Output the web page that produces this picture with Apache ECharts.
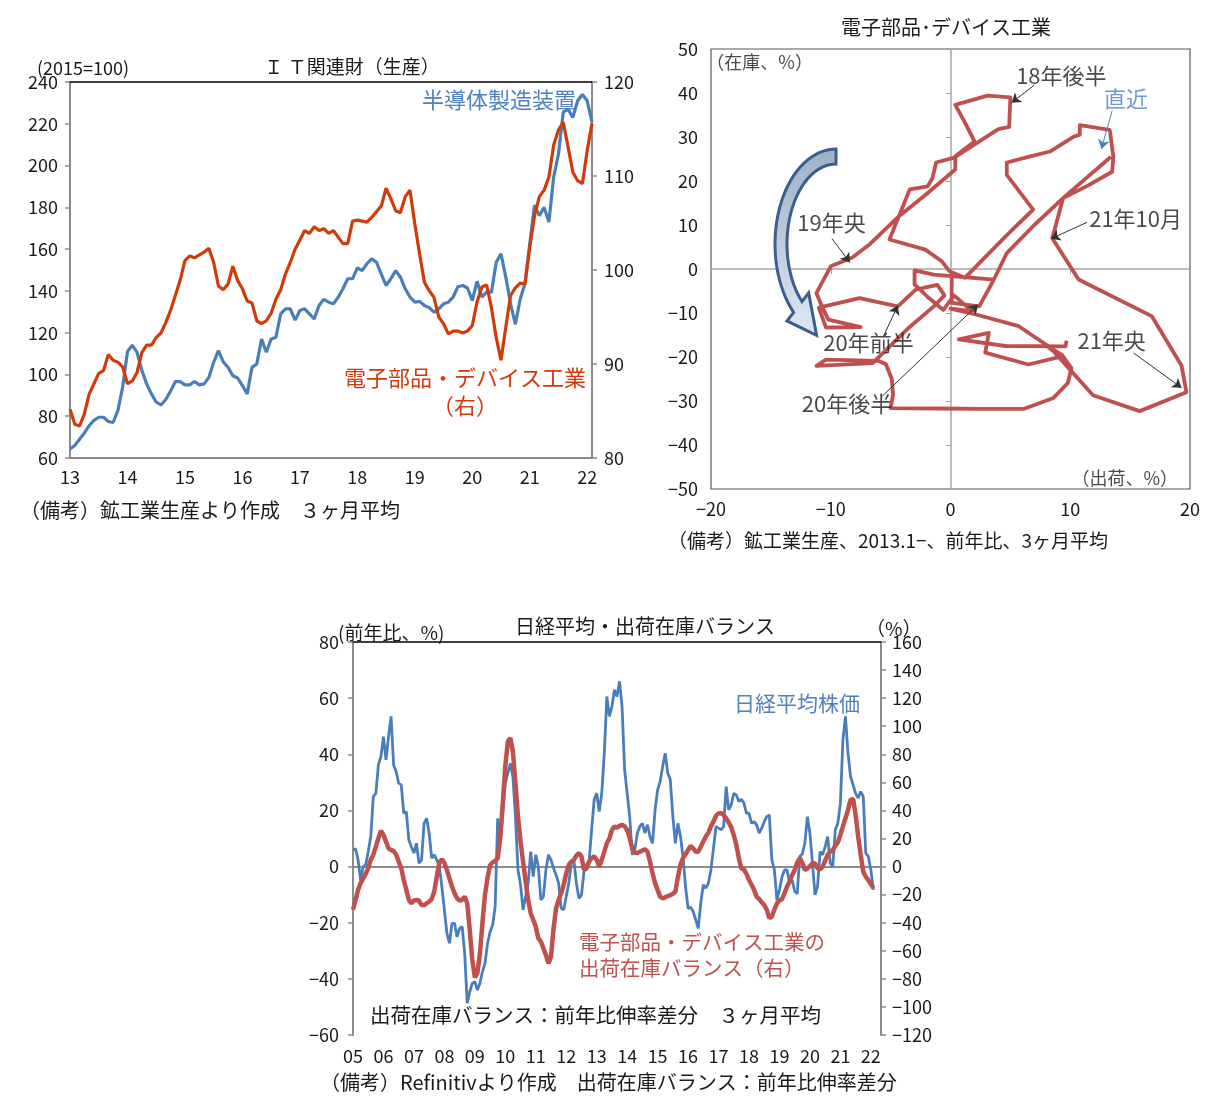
<!DOCTYPE html>
<html>
<head>
<meta charset="utf-8">
<script src="https://cdn.jsdelivr.net/npm/echarts@6.0.0/dist/echarts.min.js"></script>
<style>
  html, body { margin: 0; background: #fff; }
  #chart { width: 1220px; height: 1096px; }
</style>
</head>
<body>
<div id="chart"></div>
<script>
const FONT = "'Noto Sans CJK JP','Noto Sans',sans-serif";
const AXIS_GRAY = '#8c8c8c';
const TEXT = '#1a1a1a';
const BLUE = '#4a7ebb';

// month categories, e.g. '2013-1'
function months(y0, n) {
    const out = [];
    for (let i = 0; i < n; i++) out.push((y0 + Math.floor(i / 12)) + '-' + (i % 12 + 1));
    return out;
}

// ---- IT関連財 (2013.1 - 2022.2)
const itMonths = months(2013, 110);
const semiEquip = [
    64.3, 66, 69, 72, 75.5, 78, 79.5, 79.5, 77.5, 77,
    82.7, 94, 111, 114, 110.6, 102, 95.5, 90.7, 86.7, 85.4,
    88, 92, 96.6, 96.6, 95, 95, 96.6, 95, 95.5, 98.6,
    105.8, 111.4, 106, 103.4, 99.4, 98.3, 94.7, 90.7, 103.4, 105,
    117, 110.6, 117, 117.8, 129, 131.4, 131.4, 126, 130.6, 131.4,
    129, 126.6, 133, 136, 134.6, 133.8, 137, 141, 145.8, 145.8,
    151, 149.7, 153, 155.3, 153.7, 148, 142.6, 145.8, 149.7, 146.6,
    141, 137, 134.6, 135, 133, 132, 129.8, 131.4, 133.8, 134.6,
    137, 142, 142.6, 141.4, 135.4, 144.6, 137, 139.4, 139.4, 153.7,
    157.7, 146.6, 133.8, 124, 136, 143.4, 162.5, 181, 176, 180,
    173, 194.5, 205.6, 225.6, 227, 223, 231, 234, 231, 220.8
];
const elecParts = [
    85.2, 83.6, 83.4, 84.7, 86.8, 87.9, 89, 89.3, 91, 90.4,
    90.2, 89.7, 87.9, 88.2, 89.1, 91.2, 92, 92, 92.8, 93.3,
    94.4, 95.7, 97.3, 98.9, 101, 101.5, 101.3, 101.6, 101.9, 102.3,
    100.8, 98.3, 97.9, 98.5, 100.4, 98.9, 98, 96.7, 96.5, 94.6,
    94.3, 94.6, 95.4, 96.9, 97.9, 99.6, 100.8, 102.2, 103.2, 104.2,
    103.9, 104.6, 104.2, 104.4, 103.9, 104.2, 103.5, 102.8, 102.8, 105.2,
    105.3, 105.2, 105.1, 105.6, 106.2, 106.8, 108.7, 107.6, 106.3, 106.1,
    107.8, 108.5, 104.9, 101.7, 98.7, 97.8, 97.1, 95, 94.3, 93.2,
    93.5, 93.5, 93.3, 93.5, 94.1, 96.6, 98.2, 98.4, 96, 92.8,
    90.4, 93.9, 97.3, 98.1, 98.6, 98.5, 102.4, 105.8, 107.8, 108.5,
    109.9, 113.3, 114.9, 115.7, 113.1, 110.4, 109.5, 109.2, 112.7, 115.6
];

// ---- 出荷・在庫 (出荷%, 在庫%)
const shipInv = [
    [9.7, -16.3], [9.6, -17.6], [4.6, -17.5], [0.7, -16.0], [3.2, -14.5], [2.9, -19.0], [6.5, -21.7],
    [9.4, -19.8], [5.7, -13.0], [2.2, -10.4], [0.0, -9.0], [1.8, -9.6], [0.3, -6.0],
    [-0.6, -9.3], [-1.8, -6.6], [-3.0, -3.5], [-3.0, -0.3], [-1.4, -1.3], [3.6, -2.4], [1.0, -1.8],
    [0.1, -0.9], [0.1, -7.7], [2.4, -8.5],
    [3.6, -2.5], [4.7, 3.6], [7.0, 10.0], [9.4, 16.1], [11.5, 19.0], [13.5, 22.1], [13.6, 25.5],
    [13.3, 31.6], [10.8, 32.7], [10.8, 30.5], [10.3, 30.1], [8.3, 26.7], [6.5, 25.5], [4.7, 24.2],
    [4.7, 21.4], [6.9, 13.5], [5.0, 8.5], [3.0, 3.0], [1.2, -2.0], [-0.1, -0.5],
    [-0.7, 1.7], [-2.1, 4.4], [-5.1, 6.7], [-3.4, 18.1], [-1.9, 18.8], [-1.5, 20.7], [-1.2, 24.2],
    [0.3, 25.3], [4.0, 31.8], [4.9, 32.3], [5.0, 39.0], [3.1, 39.4], [0.4, 37.3], [1.3, 32.8],
    [2.0, 29.0], [0.4, 25.6], [0.4, 22.6], [-2.2, 16.6], [-4.3, 12.0], [-6.8, 5.5], [-8.2, 2.6],
    [-10.0, 0.6], [-11.2, -5.5], [-10.6, -9.3], [-10.2, -11.5], [-7.5, -13.2], [-10.4, -13.3],
    [-11.0, -8.8], [-7.6, -6.6], [-4.4, -8.5], [-2.9, -4.7], [-1.1, -3.6],
    [-0.5, -6.0], [-1.4, -8.5], [-3.5, -13.4], [-6.5, -21.4], [-11.2, -22.0], [-10.4, -20.6],
    [-6.0, -20.9], [-5.4, -21.6], [-4.9, -25.0], [-4.8, -28.6], [-5.0, -31.6], [-1.0, -31.7],
    [2.5, -31.8], [6.1, -31.8], [8.6, -29.3], [9.8, -25.9], [10.1, -22.5], [9.3, -19.5], [8.1, -17.6],
    [8.6, -18.7], [11.9, -28.7], [15.8, -32.3], [19.7, -28.0], [19.3, -22.0], [16.8, -10.7],
    [10.7, -2.4], [8.5, 7.0], [9.4, 16.1], [13.4, 25.5]
];
const notes = [
    { text: '18年後半', at: [9.3, 43.8], from: [7.0, 41.8], tip: [5.1, 37.8] },
    { text: '直近', at: [14.7, 38.5], from: [13.5, 36.0], tip: [12.6, 27.3], color: '#4f81bd' },
    { text: '19年央', at: [-9.9, 10.5], from: [-9.9, 6.9], tip: [-8.4, 1.5] },
    { text: '21年10月', at: [15.5, 11.3], from: [11.4, 10.6], tip: [8.4, 6.9] },
    { text: '20年前半', at: [-6.8, -16.8], from: [-5.6, -15.3], tip: [-4.4, -8.3] },
    { text: '21年央', at: [13.5, -16.4], from: [15.3, -19.1], tip: [19.3, -27.0] },
    { text: '20年後半', at: [-8.6, -30.8], from: [-5.7, -28.9], tip: [2.3, -8.1] }
];

// ---- 日経平均 / 出荷在庫バランス (2005.1 - 2022.2)
const nkMonths = months(2005, 209);
const nikkei = [
    5.9, 6.3, 2.4, -4.8, 0, 0.6, 5.3, 10.7, 25, 26.1,
    36.2, 39.2, 46.3, 38, 46.3, 53.5, 36.2, 33.9, 29.7, 29.1,
    19, 19.6, 9.5, 7.1, 4.8, 8.3, 1.2, 2.4, 15.4, 17.2,
    11.9, 3, 4.2, 2.4, 0, -7.1, -15.4, -23.8, -27.3, -20.2,
    -20.2, -25, -22, -21.4, -30.9, -48.7, -44.6, -41.6, -41, -44,
    -41.6, -37.4, -34.5, -27.3, -23.2, -20.8, -14.3, 17.2, 8.3, 19,
    29.7, 33.3, 36.8, 32, 17.8, -1.2, -6.5, -15.4, -10.7, -5.9,
    5.3, -3.6, 4.2, 0, -11.9, -10.7, -1.2, 4.2, 2.4, -0.6,
    -3, -5.9, -14.9, -15.4, -10.7, -5.9, 1.2, 2.4, -5.9, -11.3,
    -10.1, -1.8, 0.6, 1.8, 13.1, 23.8, 26.1, 19.6, 26.1, 40.4,
    60.6, 53.5, 57, 63, 60.6, 66, 57, 34.5, 26.1, 17.8,
    4.2, 5.9, 11.9, 14.3, 15.4, 11.9, 14.9, 10.7, 8.3, 20.2,
    27.3, 30.3, 35.7, 40.4, 33.3, 30.9, 17.8, 8.3, 15.4, 10.7,
    3.6, -7.1, -14.9, -14.5, -16, -19, -22, -13, -6.5, -7.7,
    -5.9, -1.2, 6.5, 14.3, 13.7, 13.1, 14.3, 28.5, 20.2, 22,
    26.1, 25.5, 23.2, 24, 22.6, 19, 19, 15.4, 16, 14.9,
    11.9, 13.7, 16, 17.8, 18.4, 2.4, -1.2, -11.9, -8.3, -3.6,
    -1.2, -1.2, -5.9, -4.8, -8.9, -9.7, 3.6, 4.5, 8.3, 17.8,
    11.9, 1.2, -10.1, -7.1, 5.3, 4.2, 7.1, 10.7, 1.2, 0,
    13.1, 15.4, 22.6, 45.2, 53.5, 40.4, 32.1, 29.1, 26.1, 24.4,
    26.7, 25, 4.8, 3.6, -1.2, -8.3
];
const balance = [
    -30.8, -23.8, -16.6, -11.8, -8.4, -5.2, -1.2, 4.8, 8.4, 14.2,
    20.2, 25.6, 22.6, 17.8, 13, 11.8, 11.2, 8.4, 3.6, -1.2,
    -9.6, -16.6, -23.8, -26.2, -24.2, -23.8, -24.2, -27.4, -27.4, -26.2,
    -25, -23.2, -17.8, -7.2, 2.4, 5.2, 2.8, -2.4, -8.4, -14.2,
    -19, -22.6, -24.2, -23.8, -21.4, -26.2, -45.2, -66.6, -79, -76,
    -62, -40, -20, -8, 1, 3, 4, 6, 20.2, 45.2,
    71.4, 89.2, 91.6, 82, 59.4, 35.6, 17.8, 3.6, -10.6, -23.8,
    -33.2, -38, -42.8, -51, -53.4, -58.2, -63, -69, -64.2, -44,
    -29.8, -23.8, -19, -13, -4.8, 1.2, 3.6, 4.8, 7.8, 9.6,
    7.2, -2.4, -1.2, 3.6, 6, 7.2, 4.8, 0, 4.8, 10.6,
    16.6, 20, 26.2, 28.6, 27.6, 29, 29.8, 28.6, 26.2, 20.2,
    13, 10, 9.6, 10.6, 11.4, 12.4, 10.6, 3.6, -4.8, -11.8,
    -16.6, -21.4, -22.8, -21.8, -21, -20.4, -19.4, -17.8, -7.2, 1.2,
    6, 8.8, 11.8, 14.8, 13, 10.6, 10.6, 14.2, 17.8, 21.4,
    24.2, 28.6, 32, 36.2, 38, 38, 36.8, 34.4, 31.4, 28,
    22.6, 15.4, 6, -1.5, -2, -5.2, -9.6, -13, -16.6, -21.4,
    -23.2, -25.4, -27.4, -30.8, -36.8, -35.6, -30.8, -26.2, -24.2, -23.2,
    -19, -14.2, -10.6, -6, -2.4, 2.8, 6, 2.8, -2.4, -1.4,
    0.4, 2.4, 2.4, -1.2, -2, 0, 4.2, 8.4, 10.6, 11.8,
    14.8, 17.2, 22.6, 28.6, 34.4, 40.4, 47.6, 48.2, 36.8, 21.4,
    8.4, -3.6, -7.2, -9.6, -12.4, -15.4
];

const minus = v => String(v).replace('-', '\u2212');
const yearTick = v => v.slice(2, 4);
const janOnly = idx => idx % 12 === 0;

const numLabel = (margin) => ({ color: TEXT, fontSize: 18, fontFamily: FONT, margin: margin, formatter: minus });
const plainAxisLine = { show: true, onZero: false, lineStyle: { color: AXIS_GRAY, width: 2 } };
const tickOut = { show: true, length: 5, lineStyle: { color: AXIS_GRAY, width: 1.5 } };

function text(x, y, str, opts) {
    return {
        type: 'text', x: x, y: y, z: 10,
        style: Object.assign({
            text: str, fontSize: 17, fontFamily: FONT, fill: TEXT,
            align: 'left', verticalAlign: 'middle'
        }, opts || {})
    };
}

// decorative curved arrow (pixel outline) for the scatter panel
function curvedArrow() {
    const cx = 836, cy = 244;
    const outer = [], inner = [];
    const t0 = -90, t1 = -226;
    for (let t = t0; t >= t1; t -= 4) {
        const r = t * Math.PI / 180;
        outer.push([cx + 61 * Math.cos(r), cy + 95 * Math.sin(r)]);
        inner.push([cx + 49 * Math.cos(r), cy + 80 * Math.sin(r)]);
    }
    const r1 = t1 * Math.PI / 180;
    const dir = [61 * Math.sin(r1), -95 * Math.cos(r1)];
    const len = Math.hypot(dir[0], dir[1]);
    const d = [dir[0] / len, dir[1] / len];
    const o = outer[outer.length - 1], i = inner[inner.length - 1];
    const nrm = [o[0] - i[0], o[1] - i[1]];
    const mid = [(o[0] + i[0]) / 2, (o[1] + i[1]) / 2];
    const head = [
        [o[0] + nrm[0] * 0.8, o[1] + nrm[1] * 0.8],
        [mid[0] + d[0] * 34, mid[1] + d[1] * 34],
        [i[0] - nrm[0] * 0.8, i[1] - nrm[1] * 0.8]
    ];
    return outer.concat(head, inner.reverse());
}

const chart = echarts.init(document.getElementById('chart'));

const option = {
    backgroundColor: '#fff',
    animation: false,
    textStyle: { fontFamily: FONT },
    grid: [
        { left: 70, top: 82, width: 522, height: 376 },
        { left: 711, top: 49, width: 479, height: 440, show: true, borderColor: '#595959', borderWidth: 1.2 },
        { left: 353, top: 642, width: 528, height: 393 }
    ],
    xAxis: [
        { // 0: IT months
            type: 'category', gridIndex: 0, data: itMonths, boundaryGap: false, position: 'bottom',
            axisLine: plainAxisLine, axisTick: { show: false },
            axisLabel: { interval: janOnly, formatter: yearTick, color: TEXT, fontSize: 18, margin: 10, fontFamily: FONT }
        },
        { // 1: scatter labels
            type: 'value', gridIndex: 1, min: -20, max: 20, interval: 10, position: 'bottom',
            axisLine: { show: false, onZero: false }, axisTick: { show: false }, splitLine: { show: false },
            axisLabel: numLabel(11)
        },
        { // 2: scatter crossing line at 在庫=0
            type: 'value', gridIndex: 1, min: -20, max: 20, interval: 10, position: 'bottom',
            axisLine: { show: true, onZero: true, lineStyle: { color: '#a6a6a6', width: 1.5 } },
            axisTick: { show: true, length: 5, lineStyle: { color: '#a6a6a6' } },
            axisLabel: { show: false }, splitLine: { show: false }
        },
        { // 3: Nikkei months
            type: 'category', gridIndex: 2, data: nkMonths, boundaryGap: false, position: 'bottom',
            axisLine: { show: false, onZero: false }, axisTick: { show: false },
            axisLabel: { interval: janOnly, formatter: yearTick, color: TEXT, fontSize: 18, margin: 12, fontFamily: FONT }
        },
        { // 4: top border of IT chart
            type: 'value', gridIndex: 0, min: 0, max: 1, position: 'top',
            axisLine: { show: true, onZero: false, lineStyle: { color: '#000', width: 1.5 } },
            axisTick: { show: false }, axisLabel: { show: false }, splitLine: { show: false }
        },
        { // 5: top border of Nikkei chart
            type: 'value', gridIndex: 2, min: 0, max: 1, position: 'top',
            axisLine: { show: true, onZero: false, lineStyle: { color: '#000', width: 1.5 } },
            axisTick: { show: false }, axisLabel: { show: false }, splitLine: { show: false }
        },
        { // 6: zero line of Nikkei chart
            type: 'value', gridIndex: 2, min: 0, max: 1, position: 'bottom',
            axisLine: { show: true, onZero: true, lineStyle: { color: '#8c8c8c', width: 2 } },
            axisTick: { show: false }, axisLabel: { show: false }, splitLine: { show: false }
        }
    ],
    yAxis: [
        { // 0: 半導体製造装置
            type: 'value', gridIndex: 0, min: 60, max: 240, interval: 20, position: 'left',
            axisLine: plainAxisLine, axisTick: tickOut, splitLine: { show: false }, axisLabel: numLabel(12)
        },
        { // 1: 電子部品 (右)
            type: 'value', gridIndex: 0, min: 80, max: 120, interval: 10, position: 'right',
            axisLine: plainAxisLine, axisTick: tickOut, splitLine: { show: false }, axisLabel: numLabel(12)
        },
        { // 2: scatter labels
            type: 'value', gridIndex: 1, min: -50, max: 50, interval: 10, position: 'left',
            axisLine: { show: false, onZero: false }, axisTick: { show: false }, splitLine: { show: false },
            axisLabel: numLabel(13)
        },
        { // 3: scatter crossing line at 出荷=0
            type: 'value', gridIndex: 1, min: -50, max: 50, interval: 10, position: 'left',
            axisLine: { show: true, onZero: true, lineStyle: { color: '#a6a6a6', width: 1.5 } },
            axisTick: { show: true, length: 5, lineStyle: { color: '#a6a6a6' } },
            axisLabel: { show: false }, splitLine: { show: false }
        },
        { // 4: 日経 (左)
            type: 'value', gridIndex: 2, min: -60, max: 80, interval: 20, position: 'left',
            axisLine: plainAxisLine, axisTick: tickOut, splitLine: { show: false }, axisLabel: numLabel(14)
        },
        { // 5: 出荷在庫バランス (右)
            type: 'value', gridIndex: 2, min: -120, max: 160, interval: 20, position: 'right',
            axisLine: plainAxisLine, axisTick: tickOut, splitLine: { show: false }, axisLabel: numLabel(11)
        }
    ],
    series: [
        {
            name: '半導体製造装置', type: 'line', xAxisIndex: 0, yAxisIndex: 0, data: semiEquip,
            showSymbol: false, lineStyle: { color: BLUE, width: 3.2 }, itemStyle: { color: BLUE }, z: 3
        },
        {
            name: '電子部品・デバイス工業', type: 'line', xAxisIndex: 0, yAxisIndex: 1, data: elecParts,
            showSymbol: false, lineStyle: { color: '#d13a0a', width: 3.2 }, itemStyle: { color: '#d13a0a' }, z: 4
        },
        {
            name: '出荷在庫', type: 'line', xAxisIndex: 1, yAxisIndex: 2, data: shipInv,
            showSymbol: false, lineStyle: { color: '#c0504d', width: 3.8, join: 'round' },
            itemStyle: { color: '#c0504d' }, z: 3
        },
        {
            name: 'arrows', type: 'lines', coordinateSystem: 'cartesian2d', xAxisIndex: 1, yAxisIndex: 2,
            symbol: ['none', 'arrow'], symbolSize: 9, z: 5,
            lineStyle: { color: '#333', width: 1, opacity: 1 },
            data: notes.map(n => ({ coords: [n.from, n.tip], lineStyle: { color: n.color || '#333' } }))
        },
        {
            name: 'notes', type: 'scatter', xAxisIndex: 1, yAxisIndex: 2, symbolSize: 1, z: 6,
            itemStyle: { color: 'rgba(0,0,0,0)' },
            label: {
                show: true, position: [0, 0], align: 'center', verticalAlign: 'middle',
                formatter: p => p.name, fontSize: 22, fontFamily: FONT, color: TEXT
            },
            data: notes.map(n => ({ name: n.text, value: n.at, label: { color: n.color || TEXT } })).concat([
                { name: '（在庫、%）', value: [-15.9, 46.8], label: { fontSize: 18 } },
                { name: '（出荷、%）', value: [14.6, -47.6], label: { fontSize: 18 } }
            ])
        },
        {
            name: '日経平均株価', type: 'line', xAxisIndex: 3, yAxisIndex: 4, data: nikkei,
            showSymbol: false, lineStyle: { color: BLUE, width: 2.8 }, itemStyle: { color: BLUE }, z: 3
        },
        {
            name: '出荷在庫バランス', type: 'line', xAxisIndex: 3, yAxisIndex: 5, data: balance,
            showSymbol: false, lineStyle: { color: '#c0504d', width: 4.5 }, itemStyle: { color: '#c0504d' }, z: 4
        }
    ],
    graphic: [
        {
            type: 'polygon', z: 1,
            shape: { points: curvedArrow() },
            style: {
                fill: {
                    type: 'linear', x: 0, y: 0, x2: 0, y2: 1,
                    colorStops: [{ offset: 0, color: '#9fb0c6' }, { offset: 1, color: '#dfe8f5' }]
                },
                stroke: '#3a5f8f', lineWidth: 3
            }
        },
        // IT chart texts
        text(37, 68, '(2015=100)', { fontSize: 18 }),
        text(352, 67, 'Ｉ Ｔ関連財（生産）', { align: 'center', fontSize: 19 }),
        text(576, 100, '半導体製造装置', { align: 'right', fontSize: 22, fill: '#4f81bd' }),
        text(586, 378, '電子部品・デバイス工業', { align: 'right', fontSize: 22, fill: '#d13a0a' }),
        text(465, 406, '（右）', { align: 'center', fontSize: 22, fill: '#d13a0a' }),
        text(20, 510, '（備考）鉱工業生産より作成　３ヶ月平均', { fontSize: 20 }),
        // scatter texts
        text(946, 27, '電子部品･デバイス工業', { align: 'center', fontSize: 20 }),
        text(668, 541, '（備考）鉱工業生産、2013.1−、前年比、3ヶ月平均', { fontSize: 19 }),
        // Nikkei chart texts
        text(645, 626, '日経平均・出荷在庫バランス', { align: 'center', fontSize: 20 }),
        text(338, 633, '(前年比、%)', { fontSize: 19 }),
        text(866, 629, '（%）', { fontSize: 19 }),
        text(860, 703, '日経平均株価', { align: 'right', fontSize: 21, fill: '#4f81bd' }),
        text(579, 942, '電子部品・デバイス工業の', { fontSize: 20.5, fill: '#c0504d' }),
        text(579, 968, '出荷在庫バランス（右）', { fontSize: 20.5, fill: '#c0504d' }),
        text(370, 1015, '出荷在庫バランス：前年比伸率差分　３ヶ月平均', { fontSize: 20.5 }),
        text(320, 1082, '（備考）Refinitivより作成　出荷在庫バランス：前年比伸率差分', { fontSize: 20 })
    ]
};

chart.setOption(option);
</script>
</body>
</html>
